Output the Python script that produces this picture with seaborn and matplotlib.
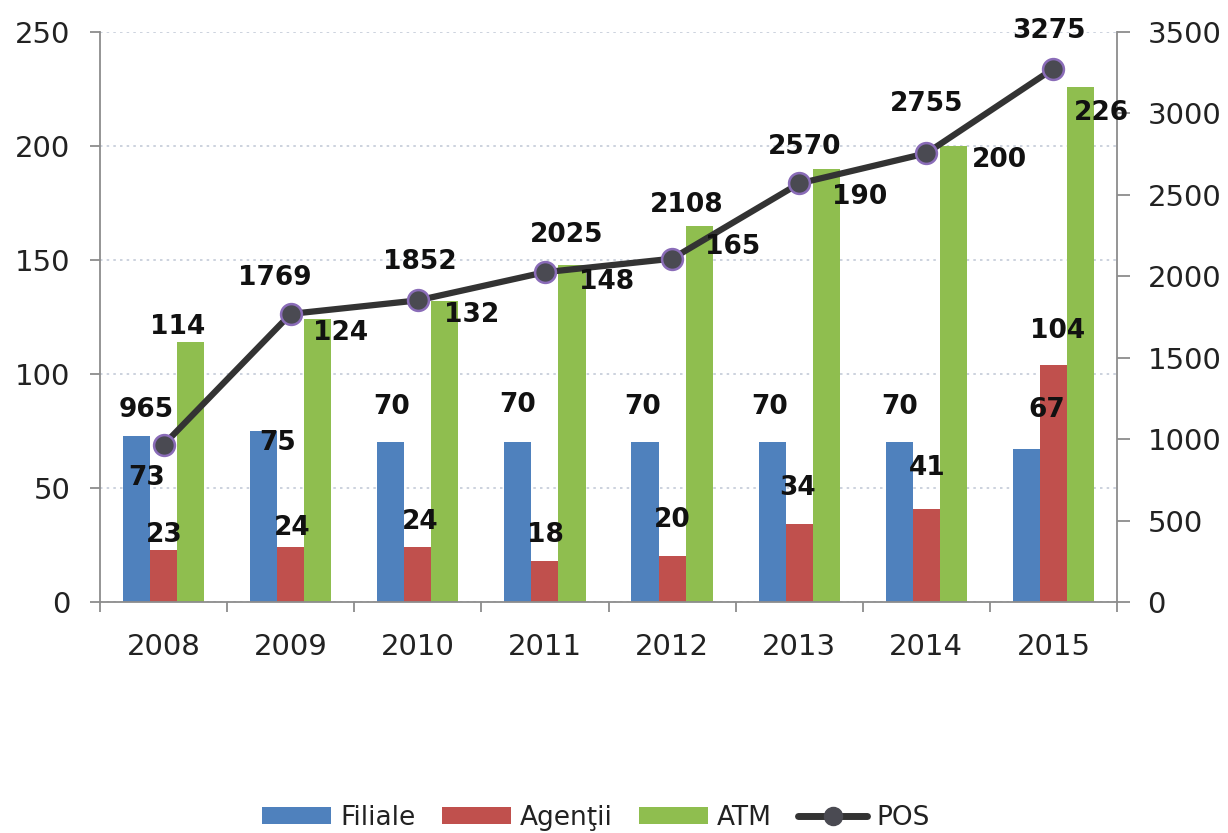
import numpy as np
import pandas as pd
import matplotlib
matplotlib.use("Agg")
import matplotlib.pyplot as plt
import seaborn as sns
from matplotlib.patches import Patch
from matplotlib.lines import Line2D

years = ["2008", "2009", "2010", "2011", "2012", "2013", "2014", "2015"]
filiale = [73, 75, 70, 70, 70, 70, 70, 67]
agentii = [23, 24, 24, 18, 20, 34, 41, 104]
atm = [114, 124, 132, 148, 165, 190, 200, 226]
pos = [965, 1769, 1852, 2025, 2108, 2570, 2755, 3275]
series_names = ["Filiale", "Agenţii", "ATM"]
pos_name = "POS"

# label offsets in pixels (dx right, dy down) relative to bar top / marker
off_fil = [(10, 42), (14, 12), (1, -35), (0, -37), (-2, -35), (-2, -35), (0, -35), (20, -39)]
off_age = [(1, -15), (2, -19), (2, -25), (0, -26), (0, -36), (-2, -36), (1, -41), (4, -34)]
off_atm = [(-13, -15), (23, 14), (27, 14), (35, 17), (33, 21), (33, 28), (46, 14), (21, 26)]
off_pos = [(-17, -35), (-16, -36), (2, -38), (22, -37), (15, -54), (5, -36), (0, -49), (-4, -38)]

colors = ["#4f81bd", "#c0504d", "#8fbe4f"]

df = pd.DataFrame({
    "year": years * 3,
    "value": filiale + agentii + atm,
    "series": [series_names[0]] * 8 + [series_names[1]] * 8 + [series_names[2]] * 8,
})

sns.set_theme(style="white")
plt.rcParams["font.family"] = ["DejaVu Sans"]

fig = plt.figure(figsize=(12.28, 8.33), dpi=100)
ax = fig.add_axes([100 / 1228, 1 - 602 / 833, (1117 - 100) / 1228, (602 - 32) / 833])

sns.barplot(data=df, x="year", y="value", hue="series", order=years,
            hue_order=series_names, palette=colors, width=0.64, gap=0,
            saturation=1, ax=ax, legend=False, linewidth=0, edgecolor="none")

ax.set_xlim(-0.5, len(years) - 0.5)
ax.set_ylim(0, 250)
ax.set_yticks(np.arange(0, 251, 50))
ax.set_xlabel("")
ax.set_ylabel("")
ax.grid(axis="y", linestyle=(0, (1.5, 2.5)), color="#c3cbd8", linewidth=1.2)
ax.set_axisbelow(True)

spine_col = "#8c8c8c"
for s in ["left", "bottom"]:
    ax.spines[s].set_color(spine_col)
    ax.spines[s].set_linewidth(1.3)
ax.spines["top"].set_visible(False)
ax.spines["right"].set_visible(False)

tick_fs = 21
ax.tick_params(axis="y", which="major", direction="out", length=7.5, width=1.3,
               color=spine_col, left=True, pad=14, labelsize=tick_fs, labelcolor="#222222")
ax.set_xticks(np.arange(-0.5, len(years), 1.0), minor=True)
ax.tick_params(axis="x", which="minor", direction="out", length=7.5, width=1.3,
               color=spine_col, bottom=True)
ax.tick_params(axis="x", which="major", length=0, pad=22, labelsize=tick_fs,
               labelcolor="#222222")

ax2 = ax.twinx()
xpos = np.arange(len(years))
sns.lineplot(x=xpos, y=pos, ax=ax2, color="#333333", linewidth=4.5,
             marker="o", markersize=15, markerfacecolor="#4a4a52",
             markeredgecolor="#8a6cb8", markeredgewidth=1.8, zorder=5)
ax2.set_ylim(0, 3500)
ax2.set_yticks(np.arange(0, 3501, 500))
ax2.set_ylabel("")
ax2.grid(False)
for s in ["left", "top", "bottom"]:
    ax2.spines[s].set_visible(False)
ax2.spines["right"].set_color(spine_col)
ax2.spines["right"].set_linewidth(1.3)
ax2.tick_params(axis="y", which="major", direction="out", length=9, width=1.3,
                color=spine_col, right=True, pad=13, labelsize=tick_fs, labelcolor="#222222")

lab_kw = dict(textcoords="offset points", ha="center", va="center",
              fontsize=19, fontweight="bold", color="#111111", zorder=10)

for cont, vals, offs in zip(ax.containers, [filiale, agentii, atm], [off_fil, off_age, off_atm]):
    for bar, v, (dx, dy) in zip(cont, vals, offs):
        bx = bar.get_x() + bar.get_width() / 2
        ax2.annotate(str(v), xy=(bx, bar.get_height() * 3500 / 250),
                     xytext=(dx * 0.72, -dy * 0.72), **lab_kw)

for x, v, (dx, dy) in zip(xpos, pos, off_pos):
    ax2.annotate(str(v), xy=(x, v), xytext=(dx * 0.72, -dy * 0.72), **lab_kw)

# legend
handles = [Patch(facecolor=c, edgecolor="none") for c in colors]
handles.append(Line2D([0], [0], color="#333333", linewidth=5, marker="o",
                      markersize=13, markerfacecolor="#4a4a52",
                      markeredgecolor="#4a4a52"))
fig.legend(handles, series_names + [pos_name], loc="center",
           bbox_to_anchor=(596 / 1228, 1 - 818 / 833), ncol=4, frameon=False,
           fontsize=19, handlelength=2.6, handleheight=0.6, handletextpad=0.35,
           columnspacing=1.0, labelcolor="#222222")

fig.savefig("out.png", dpi=100)
